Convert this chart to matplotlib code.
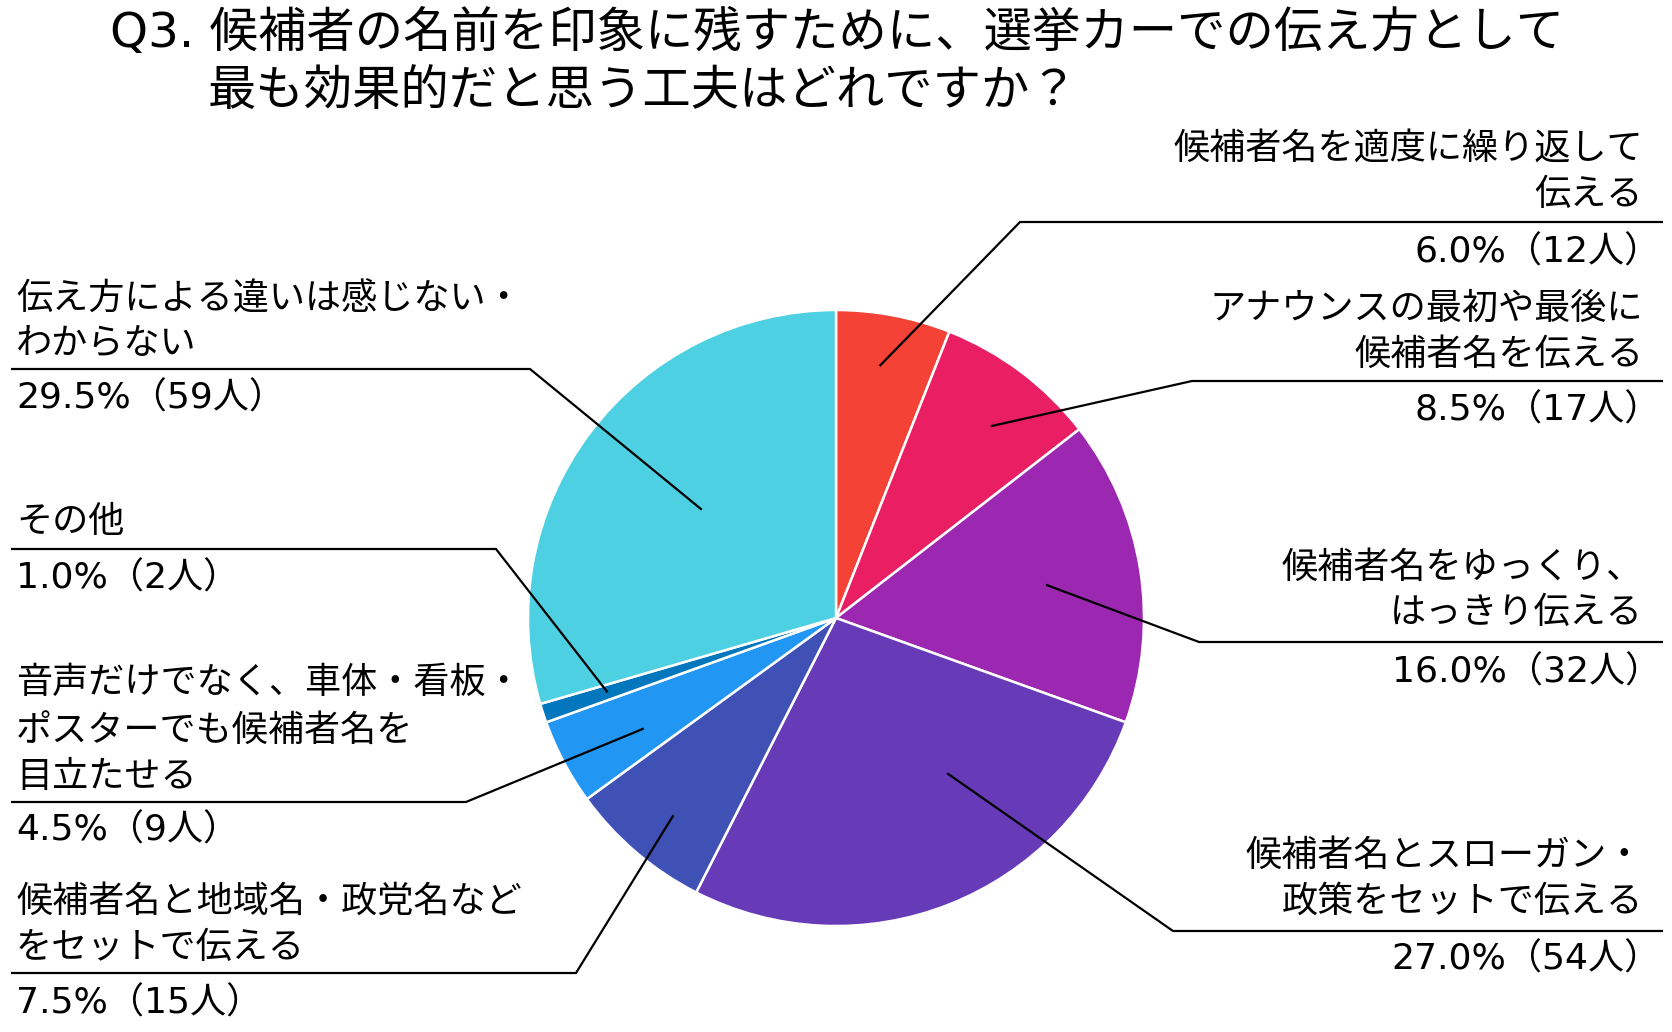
import numpy as np
import matplotlib
matplotlib.use("Agg")
import matplotlib.pyplot as plt

plt.rcParams['font.family'] = ['Noto Sans CJK JP', 'DejaVu Sans']
num_family = ['DejaVu Sans', 'Noto Sans CJK JP']

#####################
# Data
#####################
categories = [
    ["候補者名を適度に繰り返して", "伝える"],
    ["アナウンスの最初や最後に", "候補者名を伝える"],
    ["候補者名をゆっくり、", "はっきり伝える"],
    ["候補者名とスローガン・", "政策をセットで伝える"],
    ["候補者名と地域名・政党名など", "をセットで伝える"],
    ["音声だけでなく、車体・看板・", "ポスターでも候補者名を", "目立たせる"],
    ["その他"],
    ["伝え方による違いは感じない・", "わからない"],
]
counts = [12, 17, 32, 54, 15, 9, 2, 59]
colors = ['#F44336', '#E91E63', '#9C27B0', '#673AB7',
          '#3F51B5', '#2196F3', '#0277BD', '#4DD0E1']
title_lines = ["Q3. 候補者の名前を印象に残すために、選挙カーでの伝え方として",
               "最も効果的だと思う工夫はどれですか？"]

total = sum(counts)
pcts = [c / total * 100 for c in counts]

#####################
# Layout (pixels, top-left origin)
#####################
W, H = 1672, 1032
cx, cy, R = 836, 618, 308
# side, label line y's, percent y, elbow (x, y), anchor radius fraction, anchor angle offset
layout = [
    ('r', [149, 195], 252, (1020, 222), 0.83, 1),
    ('r', [309, 355], 410, (1192, 381), 0.80, -2),
    ('r', [568, 613], 672, (1199, 642), 0.69, 0),
    ('r', [856, 902], 959, (1173, 931), 0.62, 14),
    ('l', [902, 948], 1003, (576, 973), 0.83, 1),
    ('l', [683, 731, 777], 830, (466, 802), 0.72, 2),
    ('l', [522], 578, (496, 549), 0.78, 0),
    ('l', [300, 344], 398, (530, 369), 0.56, -2),
]
right_text_x, right_line_x = 1643, 1663
right_pct_x = 1661
left_text_x, left_line_x = 16, 11
fs_label = 26


def Y(y):
    return H - y


fig = plt.figure(figsize=(W / 100, H / 100), dpi=100)
ax = fig.add_axes([0, 0, 1, 1])

wedges, _ = ax.pie(pcts, colors=colors, startangle=90, counterclock=False,
                   center=(cx, Y(cy)), radius=R, frame=True,
                   wedgeprops=dict(edgecolor='white', linewidth=1.8))
ax.set_xlim(0, W)
ax.set_ylim(0, H)
ax.set_aspect('equal')
ax.axis('off')

for w, lines, cnt, pct, (side, ly, py, (ex, ey), fr, off) in zip(
        wedges, categories, counts, pcts, layout):
    mid = np.deg2rad((w.theta1 + w.theta2) / 2 + off)
    ax_x = cx + fr * R * np.cos(mid)
    ax_y = Y(cy) + fr * R * np.sin(mid)
    end_x = right_line_x if side == 'r' else left_line_x
    ax.plot([ax_x, ex, end_x], [ax_y, Y(ey), Y(ey)], color='black', lw=1.6,
            solid_capstyle='butt', zorder=3)
    tx = right_text_x if side == 'r' else left_text_x
    ha = 'right' if side == 'r' else 'left'
    for s, yy in zip(lines, ly):
        ax.text(tx, Y(yy), s, ha=ha, va='center', fontsize=fs_label)
    px = right_pct_x if side == 'r' else left_text_x
    ax.text(px, Y(py), f"{pct:.1f}%（{cnt}人）", ha=ha, va='center',
            fontsize=fs_label, family=num_family)

ax.text(110, Y(33), title_lines[0], ha='left', va='center', fontsize=34.8,
        family=num_family)
ax.text(208, Y(91), title_lines[1], ha='left', va='center', fontsize=34.8)

fig.savefig('out.png', dpi=100, facecolor='white')
